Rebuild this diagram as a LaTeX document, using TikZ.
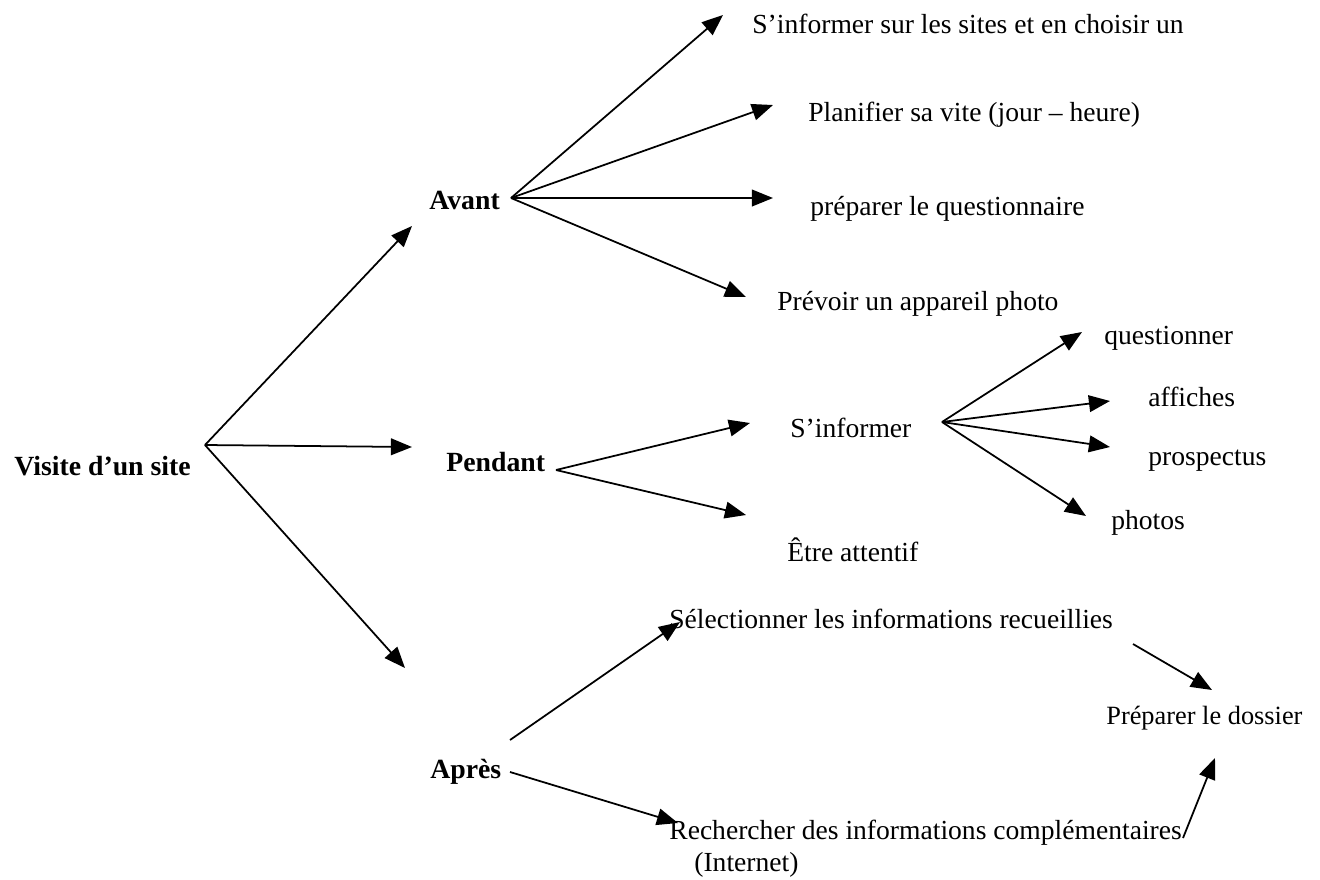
\documentclass[tikz,border=0pt]{standalone}
\usepackage{fontspec}
\setmainfont{Liberation Serif}
\usetikzlibrary{arrows.meta}
\tikzset{
    txt/.style={anchor=west,inner sep=0pt,font=\fontsize{15.7}{18}\selectfont},
    head/.style={txt,font=\fontsize{15.8}{18}\selectfont\bfseries},
    arr/.style={-{Triangle[length=12pt,width=9.5pt]},line width=1pt}
}
\begin{document}
\begin{tikzpicture}[x=0.02cm,y=-0.02cm]
    \useasboundingbox (0,0) rectangle (1320,880);
    %main headings
    \node[head] (visite) at (14,466) {Visite d’un site};
    \node[head] (avant) at (429,200) {Avant};
    \node[head] (pendant) at (446,462) {Pendant};
    \node[head] (apres) at (430,772) {Après};
    %texts
    \node[txt] (sites) at (752,24) {S’informer sur les sites et en choisir un};
    \node[txt] (planif) at (808,115) {Planifier sa vite (jour – heure)};
    \node[txt] (quest) at (810,209) {préparer le questionnaire};
    \node[txt] (appareil) at (777,304) {Prévoir un appareil photo};
    \node[txt] (sinf) at (790,428) {S’informer};
    \node[txt] (attentif) at (787,550) {Être attentif};
    \node[txt] (questionner) at (1104,338) {questionner};
    \node[txt] (affiches) at (1148,397) {affiches};
    \node[txt] (prospectus) at (1148,461) {prospectus};
    \node[txt] (photos) at (1111,523) {photos};
    \node[txt] (select) at (669,619) {Sélectionner les informations recueillies};
    \node[txt,font=\fontsize{15}{17}\selectfont] (dossier) at (1106,718) {Préparer le dossier};
    \node[txt,align=left] (recherche) at (669,849) {Rechercher des informations complémentaires\\\hspace{0.5cm}(Internet)};
    %hubs and tips
    \coordinate (visite-o) at (205,445);
    \coordinate (avant-o) at (511,198);
    \coordinate (pendant-o) at (556,470);
    \coordinate (sinf-o) at (942,422);
    \coordinate (apres-o1) at (510,740);
    \coordinate (apres-o2) at (510,772);
    \coordinate (select-o) at (1133,644);
    \coordinate (recherche-o) at (1183,838);
    \coordinate (t-avant) at (412,226);
    \coordinate (t-pendant) at (412,447);
    \coordinate (t-apres) at (405,668);
    \coordinate (t-sites) at (723,15);
    \coordinate (t-planif) at (773,105);
    \coordinate (t-quest) at (773,198);
    \coordinate (t-appareil) at (746,297);
    \coordinate (t-sinf) at (750,423);
    \coordinate (t-attentif) at (746,515);
    \coordinate (t-questionner) at (1082,332);
    \coordinate (t-affiches) at (1110,401);
    \coordinate (t-prospectus) at (1110,447);
    \coordinate (t-photos) at (1086,516);
    \coordinate (t-select) at (680,622);
    \coordinate (t-recherche) at (678,823);
    \coordinate (t-dossier1) at (1212,690);
    \coordinate (t-dossier2) at (1215,758);
    %draw arrows
    \draw[arr] (visite-o) -- (t-avant);
    \draw[arr] (visite-o) -- (t-pendant);
    \draw[arr] (visite-o) -- (t-apres);
    \foreach \t in {sites,planif,quest,appareil}
        \draw[arr] (avant-o) -- (t-\t);
    \draw[arr] (pendant-o) -- (t-sinf);
    \draw[arr] (pendant-o) -- (t-attentif);
    \foreach \t in {questionner,affiches,prospectus,photos}
        \draw[arr] (sinf-o) -- (t-\t);
    \draw[arr] (apres-o1) -- (t-select);
    \draw[arr] (apres-o2) -- (t-recherche);
    \draw[arr] (select-o) -- (t-dossier1);
    \draw[arr] (recherche-o) -- (t-dossier2);
\end{tikzpicture}
\end{document}
